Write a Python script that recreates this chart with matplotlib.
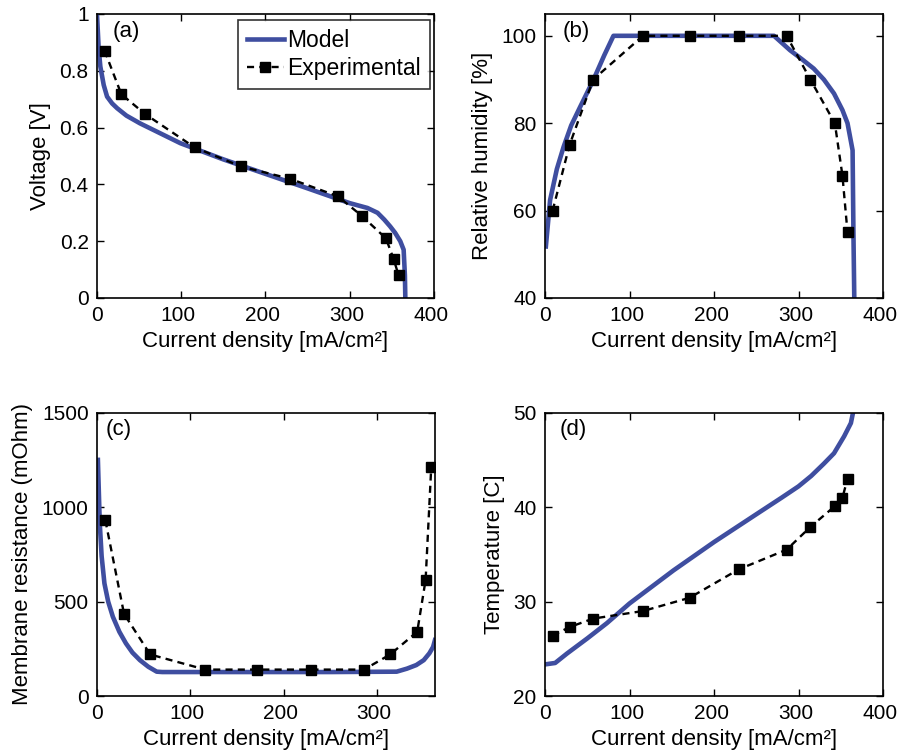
import matplotlib.pyplot as plt
import matplotlib.transforms as mtransforms
import numpy as np

plt.rcParams['font.family'] = ['Liberation Sans', 'DejaVu Sans']
plt.rcParams['font.size'] = 15

# experimental current densities [mA/cm2], same for every panel
exp_i = [9, 29, 57, 116, 171, 229, 286, 314, 343, 352, 358]

# (a) voltage
exp_v = [0.871, 0.717, 0.648, 0.530, 0.463, 0.420, 0.358, 0.290, 0.210, 0.138, 0.080]
mod_v_i = [0, 2, 4, 8, 12, 18, 24, 35, 51, 75, 99, 150, 200, 250, 300, 321, 333, 341, 348, 354, 360, 364, 365.5, 366]
mod_v = [1.0, 0.88, 0.815, 0.75, 0.709, 0.685, 0.668, 0.642, 0.615, 0.58, 0.545, 0.488, 0.437, 0.386, 0.334, 0.317, 0.300, 0.276, 0.252, 0.229, 0.20, 0.170, 0.08, 0.0]

# (b) relative humidity
exp_rh = [60, 75, 90, 100, 100, 100, 100, 90, 80, 68, 55]
mod_rh_i = [1, 6, 14, 22, 31, 41.5, 57, 70, 81, 150, 200, 271, 290, 305, 318, 330, 342, 352, 358, 364, 365, 366]
mod_rh = [51.8, 62.4, 69.5, 74.6, 79.5, 83.7, 89.8, 95.5, 100, 100, 100, 100, 96.7, 94.5, 92.5, 90.0, 86.8, 83.0, 80.0, 73.8, 55, 40]

# (c) membrane resistance
exp_r = [930, 435, 220, 140, 140, 140, 140, 220, 340, 615, 1210]
mod_r_i = [1, 3, 5, 8, 12, 17, 24, 31, 38, 46, 55, 64, 70, 150, 250, 321, 332, 342, 350, 356, 360, 362]
mod_r = [1250, 914, 740, 596, 500, 420, 340, 279, 230, 190, 155, 129, 127, 127, 127, 129, 145, 164, 190, 226, 260, 296]

# (d) temperature
exp_t = [26.4, 27.3, 28.2, 29.0, 30.4, 33.4, 35.5, 37.9, 40.1, 41.0, 43.0]
mod_t_i = [0, 12, 26, 50, 73, 100, 152, 200, 251, 280, 300, 315, 330, 342, 354, 362, 364.5]
mod_t = [23.35, 23.5, 24.5, 26.1, 27.7, 29.8, 33.3, 36.3, 39.3, 41.0, 42.2, 43.3, 44.6, 45.7, 47.5, 48.9, 50.0]

blue = '#3f4ea0'

fig = plt.figure(figsize=(8.97, 7.55), dpi=100)
ax_a = fig.add_axes([0.1081, 0.6053, 0.3757, 0.3762])
ax_b = fig.add_axes([0.6076, 0.6053, 0.3768, 0.3762])
ax_c = fig.add_axes([0.1081, 0.0781, 0.3768, 0.3753])
ax_d = fig.add_axes([0.6076, 0.0781, 0.3768, 0.3753])

panels = [
    (ax_a, mod_v_i, mod_v, exp_v, (0, 400), (0, 1), [0, 100, 200, 300, 400],
     [0, 0.2, 0.4, 0.6, 0.8, 1], ['0', '0.2', '0.4', '0.6', '0.8', '1'], 'Voltage [V]', '(a)', 0.045),
    (ax_b, mod_rh_i, mod_rh, exp_rh, (0, 400), (40, 105), [0, 100, 200, 300, 400],
     [40, 60, 80, 100], ['40', '60', '80', '100'], 'Relative humidity [%]', '(b)', 0.053),
    (ax_c, mod_r_i, mod_r, exp_r, (0, 362), (0, 1500), [0, 100, 200, 300],
     [0, 500, 1000, 1500], ['0', '500', '1000', '1500'], 'Membrane resistance (mOhm)', '(c)', 0.027),
    (ax_d, mod_t_i, mod_t, exp_t, (0, 400), (20, 50), [0, 100, 200, 300, 400],
     [20, 30, 40, 50], ['20', '30', '40', '50'], 'Temperature [C]', '(d)', 0.044),
]

shift = mtransforms.ScaledTranslation(-3 / 100, 0, fig.dpi_scale_trans)

for ax, mi, mv, ev, xl, yl, xt, yt, ytl, ylab, tag, tx in panels:
    ax.plot(mi, mv, color=blue, lw=3.3, label='Model', solid_joinstyle='round', zorder=2)
    ax.plot(exp_i, ev, color='black', ls=(0, (3, 2.2)), lw=1.7, marker='s', ms=7.8,
            label='Experimental', zorder=3)
    ax.set_xlim(*xl)
    ax.set_ylim(*yl)
    ax.set_xticks(xt)
    ax.set_yticks(yt)
    ax.set_yticklabels(ytl)
    ax.tick_params(direction='in', top=True, right=True, length=5, width=1, pad=6, labelsize=15)
    for lbl in ax.get_xticklabels()[1:]:
        lbl.set_transform(lbl.get_transform() + shift)
    for s in ax.spines.values():
        s.set_linewidth(1.2)
    ax.set_xlabel('Current density [mA/cm²]', fontsize=16, labelpad=4)
    ax.set_ylabel(ylab, fontsize=16, labelpad=6)
    ax.text(tx, 0.94, tag, transform=ax.transAxes, ha='left', va='center', fontsize=16)

leg = ax_a.legend(loc='upper right', bbox_to_anchor=(0.988, 0.979), frameon=True, fancybox=False,
                  edgecolor='black', handlelength=1.6, handletextpad=0.15, borderpad=0.4,
                  labelspacing=0.2, fontsize=16.5, borderaxespad=0)
leg.get_frame().set_linewidth(1.2)

fig.savefig('out.png', dpi=100)
